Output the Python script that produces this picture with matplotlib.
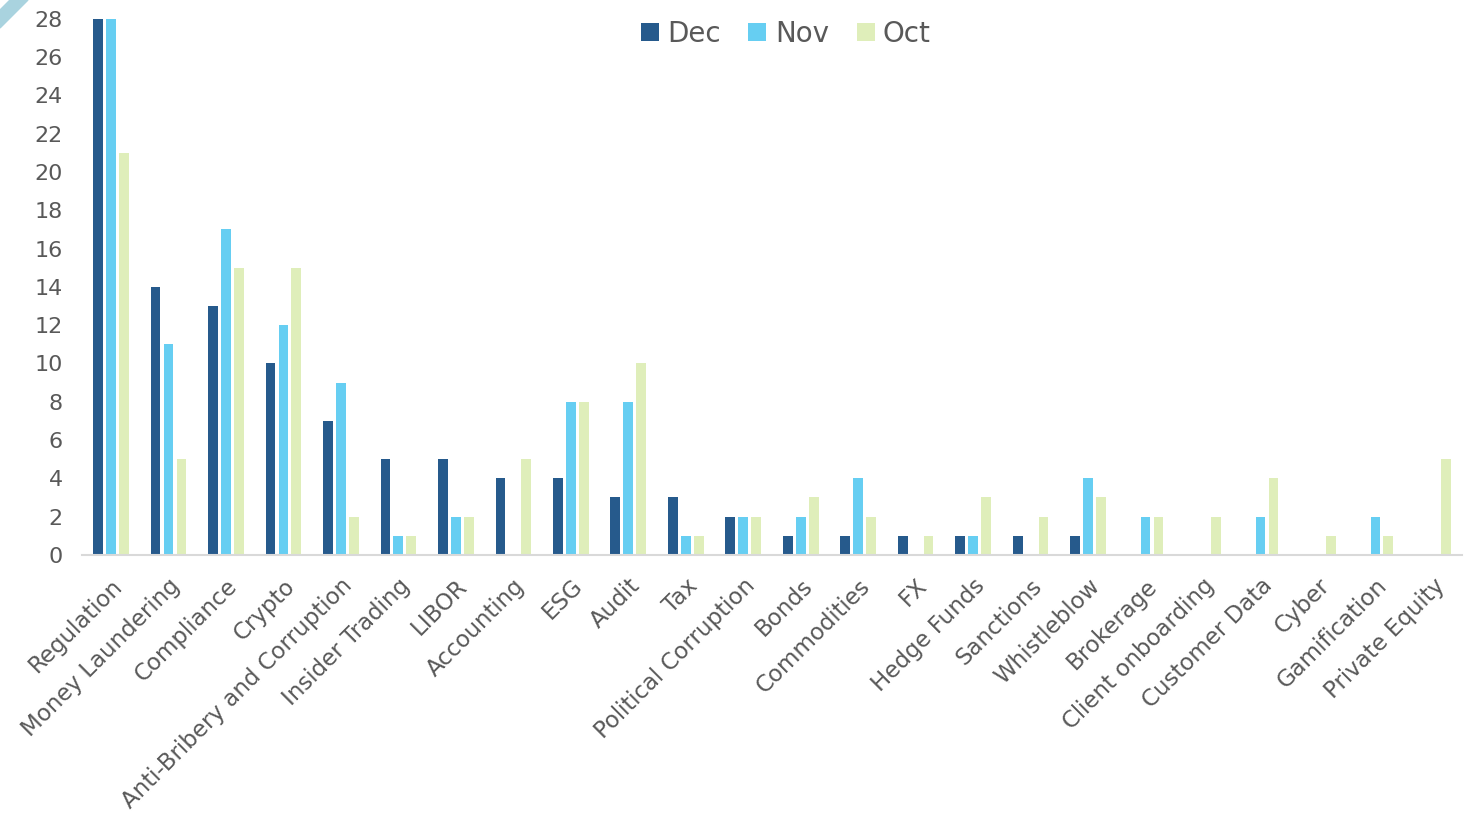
import numpy as np
import matplotlib.pyplot as plt
from matplotlib.patches import Polygon

categorias = ['Regulation', 'Money Laundering', 'Compliance', 'Crypto',
              'Anti-Bribery and Corruption', 'Insider Trading', 'LIBOR',
              'Accounting', 'ESG', 'Audit', 'Tax', 'Political Corruption',
              'Bonds', 'Commodities', 'FX', 'Hedge Funds', 'Sanctions',
              'Whistleblow', 'Brokerage', 'Client onboarding', 'Customer Data',
              'Cyber', 'Gamification', 'Private Equity']
dec = [28, 14, 13, 10, 7, 5, 5, 4, 4, 3, 3, 2, 1, 1, 1, 1, 1, 1, 0, 0, 0, 0, 0, 0]
nov = [28, 11, 17, 12, 9, 1, 2, 0, 8, 8, 1, 2, 2, 4, 0, 1, 0, 4, 2, 0, 2, 0, 2, 0]
oct_ = [21, 5, 15, 15, 2, 1, 2, 5, 8, 10, 1, 2, 3, 2, 1, 3, 2, 3, 2, 2, 4, 1, 1, 5]

plt.rcParams['font.family'] = ['DejaVu Sans']
gris = '#595959'

fig = plt.figure(figsize=(14.69, 8.16), dpi=100)
ax = fig.add_axes([0.056, 0.32, 0.939, 0.657])

x = np.arange(len(categorias))
w = 0.17
paso = 0.225
ax.bar(x - paso, dec, w, color='#265A8C', label='Dec')
ax.bar(x, nov, w, color='#66CEF2', label='Nov')
ax.bar(x + paso, oct_, w, color='#DFEEBA', label='Oct')

ax.set_xlim(-0.5, len(categorias) - 0.5)
ax.set_ylim(0, 28)
ax.set_yticks(range(0, 29, 2))
ax.set_xticks(x)
ax.set_xticklabels(categorias, rotation=45, ha='right', rotation_mode='anchor')
ax.tick_params(axis='both', length=0, colors=gris)
ax.tick_params(axis='y', labelsize=16, pad=14)
ax.tick_params(axis='x', labelsize=16.5, pad=14)

for s in ['top', 'right', 'left']:
    ax.spines[s].set_visible(False)
ax.spines['bottom'].set_color('#D9D9D9')
ax.spines['bottom'].set_linewidth(1.5)

leg = ax.legend(loc='upper center', bbox_to_anchor=(0.51, 1.045), ncol=3,
                frameon=False, fontsize=20, handlelength=0.65, handleheight=0.65,
                handletextpad=0.3, columnspacing=1.0)
for t in leg.get_texts():
    t.set_color(gris)

# franja decorativa arriba a la izquierda
W, H = 1469, 816
franja = Polygon([(0, 1 - 10 / H), (10 / W, 1), (28 / W, 1), (0, 1 - 28 / H)],
                 closed=True, transform=fig.transFigure, color='#A9D3DF')
fig.patches.append(franja)

fig.savefig('out.png', dpi=100)
